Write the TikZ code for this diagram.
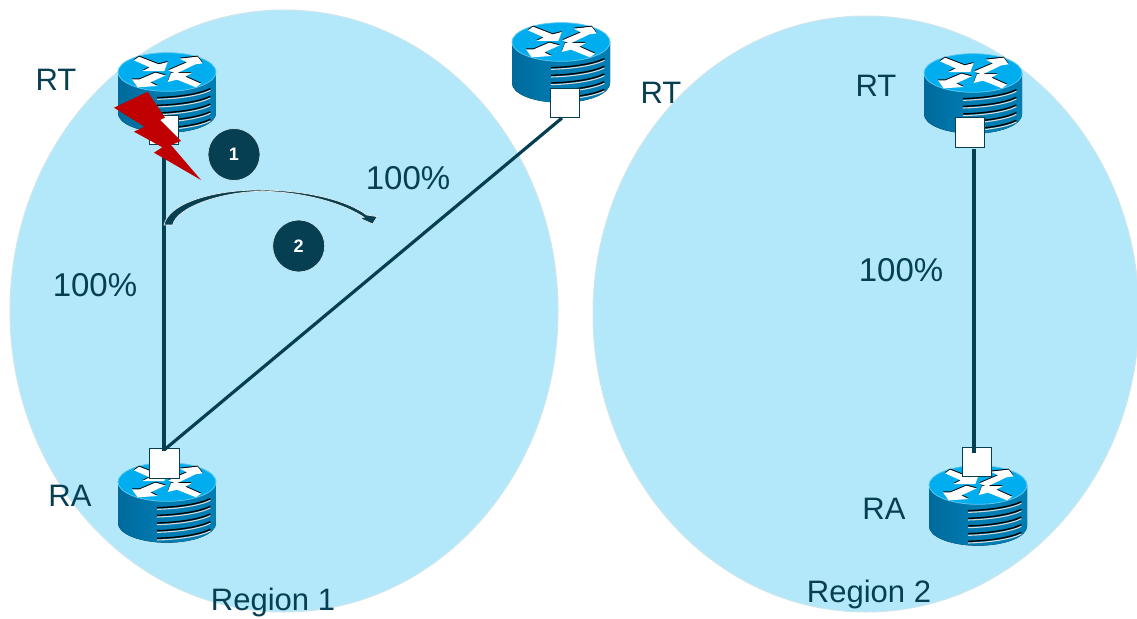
\documentclass[tikz,border=0pt]{standalone}
\usepackage{fontspec}
\usetikzlibrary{shapes.geometric}
\setmainfont{Liberation Sans}
\definecolor{inkteal}{HTML}{063F52}
\definecolor{regionfill}{HTML}{B3E8FB}
\definecolor{regionedge}{HTML}{CDE6EC}
\definecolor{arcedge}{HTML}{E6EEEC}
\definecolor{rtop}{HTML}{00AEEF}
\definecolor{rtopedge}{HTML}{5CC8EE}
\definecolor{rbody}{HTML}{007DB3}
\definecolor{rbodydark}{HTML}{006A9C}
\definecolor{boltred}{HTML}{C00000}
\tikzset{
  regionshape/.style={ellipse,draw=regionedge,line width=1pt,fill=regionfill,inner sep=0pt},
  portbox/.style={rectangle,draw=inkteal,line width=.8pt,fill=white,minimum width=29.5pt,minimum height=29.5pt,inner sep=0pt},
  linkline/.style={draw=inkteal,line width=3.2pt},
  stepcircle/.style={circle,draw=regionedge,line width=.7pt,fill=inkteal,text=white,minimum size=52pt,inner sep=0pt,font=\bfseries\fontsize{18}{18}\selectfont},
  biglabel/.style={text=inkteal,inner sep=0pt,font=\fontsize{33}{33}\selectfont},
  midlabel/.style={text=inkteal,inner sep=0pt,font=\fontsize{31}{31}\selectfont},
  router/.pic={
    \begin{scope}[x=.3333pt,y=-.3333pt]
      \fill[left color=rbodydark,right color=rbody,middle color=rbody]
        (-147,0) -- (-147,124)
        .. controls (-147,156) and (-81,182) .. (0,182)
        .. controls (81,182) and (147,156) .. (147,124)
        -- (147,0) -- cycle;
      \foreach \d in {0,23,46,69,92}{
        \draw[white!85!black,line width=1.1pt] (-30,{82+\d}) .. controls (40,{80+\d}) and (100,{70+\d}) .. (130,{55+\d});
        \draw[black,line width=1.4pt] (-30,{77+\d}) .. controls (40,{75+\d}) and (100,{65+\d}) .. (130,{50+\d});
      }
      \filldraw[fill=rtop,draw=rtopedge,line width=.8pt]
        (-147,0) .. controls (-147,-32) and (-81,-58) .. (0,-58)
        .. controls (81,-58) and (147,-32) .. (147,0)
        .. controls (147,32) and (81,58) .. (0,58)
        .. controls (-81,58) and (-147,32) .. (-147,0) -- cycle;
      \foreach \c/\s in {black/-3,white/0}{
        \begin{scope}[shift={(0,\s)}]
          \fill[\c] (-84,-46) -- (-25,-23) -- (2,-30) -- (-8,-3) -- (-74,-3) -- (-52,-14) -- (-99,-35) -- cycle;
          \fill[\c] (4,-5) -- (60,-29) -- (38,-40) -- (92,-46) -- (107,-26) -- (85,-23) -- (27,5) -- cycle;
          \fill[\c] (-4,10) -- (-50,31) -- (-28,42) -- (-88,46) -- (-105,22) -- (-82,22) -- (-35,2) -- cycle;
          \fill[\c] (2,30) -- (12,3) -- (74,3) -- (55,14) -- (102,35) -- (87,46) -- (30,23) -- cycle;
        \end{scope}
      }
    \end{scope}
  }
}
\begin{document}
\begin{tikzpicture}[x=1pt,y=-1pt]
  \useasboundingbox (0,0) rectangle (1137,618);
  \fill[white] (0,0) rectangle (1137,618);
  \node[regionshape,minimum width=548pt,minimum height=602pt] (region1) at (284,311) {};
  \node[regionshape,minimum width=546pt,minimum height=596pt] (region2) at (866,314) {};

  \pic at (167,72) {router};
  \pic at (167,482) {router};
  \pic at (561,42) {router};
  \pic at (973,73) {router};
  \pic at (978,485) {router};

  \node[portbox] (p1) at (164,130) {};
  \node[portbox] (p2) at (164.5,463.5) {};
  \node[portbox] (p3) at (565,103) {};
  \node[portbox] (p4) at (970,132.5) {};
  \node[portbox] (p5) at (977,462) {};

  \coordinate (l1a) at (164,147);
  \coordinate (l1b) at (164,451);
  \coordinate (l2a) at (562,118);
  \coordinate (l2b) at (164,450);
  \coordinate (l3a) at (974,149);
  \coordinate (l3b) at (974,453);

  \draw[linkline] (l1a) -- (l1b);
  \draw[linkline] (l2a) -- (l2b);
  \draw[linkline] (l3a) -- (l3b);

  \begin{scope}[x=1pt,y=-1pt]
    \fill[boltred] (114,107.7) -- (147.7,91.7) -- (165,117.7) -- (160,120) -- (181,141) -- (171,145) -- (201,180)
      -- (154,152.7) -- (162.3,147.3) -- (134,131.7) -- (144.3,126.7) -- cycle;
  \end{scope}
  \begin{scope}[shift={(90,30)},x=.3333pt,y=-.3333pt]
    \filldraw[fill=inkteal,draw=arcedge,line width=.7pt]
      (222,585) .. controls (235,520) and (370,478) .. (520,480)
      .. controls (650,482) and (770,510) .. (830,555)
      -- (862,560) -- (848,582) -- (810,565) -- (822,562)
      .. controls (760,520) and (640,486) .. (520,484)
      .. controls (400,484) and (260,530) .. (248,585) -- cycle;
  \end{scope}

  \node[stepcircle] (s1) at (234,154.5) {1};
  \node[stepcircle] (s2) at (298.7,246) {2};

  \node[midlabel] (rtA) at (56,80) {RT};
  \node[midlabel] (rtB) at (661,93) {RT};
  \node[midlabel] (rtC) at (876,86) {RT};
  \node[midlabel] (raA) at (70,496) {RA};
  \node[midlabel] (raB) at (884,509) {RA};
  \node[biglabel] (pctA) at (408,178) {100\%};
  \node[biglabel] (pctB) at (95,285) {100\%};
  \node[biglabel] (pctC) at (901,270) {100\%};
  \node[midlabel] (regA) at (273,602) {Region 1};
  \node[midlabel] (regB) at (869,594) {Region 2};
\end{tikzpicture}
\end{document}
